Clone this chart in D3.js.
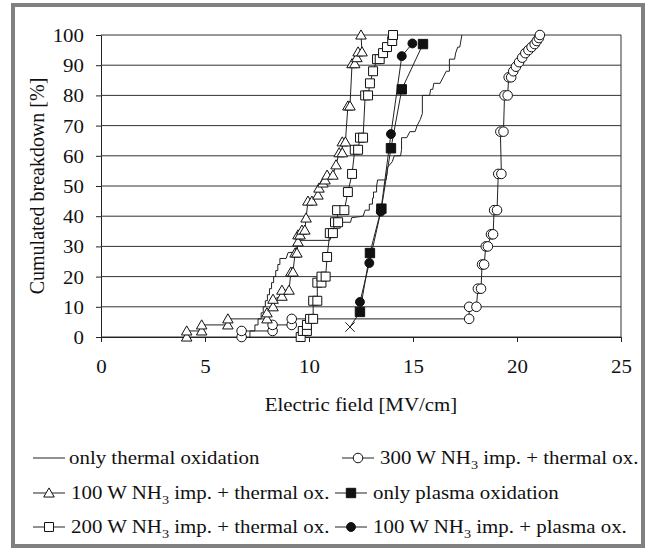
<!DOCTYPE html>
<html>
<head>
<meta charset="utf-8">
<script src="https://cdnjs.cloudflare.com/ajax/libs/d3/7.8.5/d3.min.js"></script>
<style>
  body { margin: 0; background: #fff; }
  svg text { font-family: "Liberation Serif", "Times New Roman", serif; }
</style>
</head>
<body>
<svg id="chart" width="649" height="550"></svg>
<script>
// ---- data ----
const xTicks = [0, 5, 10, 15, 20, 25];
const yTicks = [0, 10, 20, 30, 40, 50, 60, 70, 80, 90, 100];

// only thermal oxidation (plain stepped line)
const thermalOnly = [
  [7.16,0],[7.16,2],[7.4,2],[7.4,4],[7.55,4],[7.55,6],[7.7,6],[7.7,8],[7.8,8],[7.8,10],
  [7.9,10],[7.9,12],[8.0,12],[8.0,14],[8.1,14],[8.1,16],[8.2,16],[8.2,18],[8.3,18],[8.3,20],
  [8.4,20],[8.4,22],[8.5,22],[8.5,24],[8.6,24],[8.6,26],[8.9,26],[9.0,28],[9.3,28],[9.4,30],
  [9.45,32],[11.0,32],[11.1,34],[11.3,34],[11.3,36],[11.5,36],[11.5,38],[12.0,38],[12.05,39.5],
  [12.6,40],[12.7,42],[12.9,42],[12.9,44],[13.05,44],[13.05,46],[13.1,46],[13.1,48],[13.25,48],
  [13.25,50],[13.3,52],[13.7,52],[13.75,54],[13.75,56],[14.0,58],[14.1,60],[14.4,60],[14.45,62],
  [14.45,66],[14.7,66],[14.85,68],[15.1,68],[15.2,70],[15.35,72],[15.45,74],[15.45,80],[15.8,80],
  [15.85,82],[15.95,82],[16.0,84],[16.3,84],[16.45,86],[16.6,88],[16.75,88],[16.75,92],[17.0,92],
  [17.05,94],[17.15,96],[17.25,96],[17.3,98],[17.35,100]
];

// 100 W NH3 imp. + thermal ox. (open triangles)
const nh3w100Thermal = [
  [4.12,0],[4.12,2],[4.84,2],[4.84,4],[6.1,4],[6.1,6],[7.98,6],[7.98,8],[8.27,10],[8.27,12.5],
  [8.7,13.5],[8.7,15.5],[9.04,15.5],[9.13,21.5],[9.23,21.5],[9.33,27.8],[9.42,27.8],[9.47,31.5],
  [9.47,33.8],[9.57,33.8],[9.66,35.4],[9.8,35.4],[9.86,39.4],[9.95,45],[10.14,45],[10.43,47],
  [10.48,49.3],[10.67,51],[10.77,52],[10.87,53.6],[11.15,53.6],[11.3,57],[11.45,61],[11.6,61],
  [11.6,64.6],[11.75,64.6],[11.87,76.5],[11.97,76.5],[12.07,90.5],[12.2,90.5],[12.3,92.5],
  [12.36,94.4],[12.55,94.4],[12.5,100]
];

// 200 W NH3 imp. + thermal ox. (open squares)
const nh3w200Thermal = [
  [9.6,0],[9.7,2],[9.9,2],[9.9,4],[10.05,6],[10.2,6],[10.2,12],[10.4,12],[10.4,18],[10.6,18],
  [10.6,20],[10.8,20],[10.87,26.5],[11.0,34.4],[11.15,34.4],[11.25,38],[11.4,38],[11.35,42],
  [11.7,42],[11.87,48],[12.07,54],[12.2,62],[12.36,62],[12.45,66],[12.6,66],[12.7,80],[12.84,80],
  [12.93,84],[13.08,88],[13.27,92],[13.4,92],[13.56,94],[13.75,96],[14.0,98],[14.04,100]
];

// 300 W NH3 imp. + thermal ox. (open circles)
const nh3w300Thermal = [
  [6.76,0],[6.76,2],[8.25,2],[8.25,4],[9.17,4],[9.17,6],[17.7,6],[17.7,10],[18.05,10],
  [18.12,16],[18.27,16],[18.32,24],[18.42,24],[18.5,30],[18.6,30],[18.75,34],[18.85,34],
  [18.9,42],[19.04,42],[19.1,54],[19.25,54],[19.2,68],[19.35,68],[19.4,80],[19.55,80],
  [19.6,86],[19.72,86],[19.82,88],[19.95,89.5],[20.1,91],[20.25,92.5],[20.4,94],[20.55,95],
  [20.7,96],[20.85,97],[20.95,98],[21.05,99],[21.1,100]
];

// only plasma oxidation (filled squares); first point drawn as a cross
const plasmaCross = [11.97, 3.3];
const plasmaOnly = [
  [12.45,8.3],[12.93,27.8],[13.48,42.5],[13.94,62.5],[14.46,82],[15.48,97]
];

// 100 W NH3 imp. + plasma ox. (filled circles)
const nh3w100Plasma = [
  [12.45,11.6],[12.9,24.5],[13.45,41.5],[13.94,67.2],[14.46,93],[14.97,97.2]
];

// ---- layout ----
const svg = d3.select('#chart');
const plot = { left: 101, right: 621, top: 35, bottom: 337 };
const stretch = 1.1;   // text in the figure is a bit wider than plain Times
const ink = '#111';

svg.append('rect')
  .attr('x', 13).attr('y', 5)
  .attr('width', 630).attr('height', 541)
  .attr('fill', 'none')
  .attr('stroke', '#808080')
  .attr('stroke-width', 4);

const x = d3.scaleLinear().domain([0, 25]).range([plot.left, plot.right]);
const y = d3.scaleLinear().domain([0, 100]).range([plot.bottom, plot.top]);

// y axis
const yAxisG = svg.append('g')
  .attr('transform', `translate(${plot.left},0)`)
  .call(d3.axisLeft(y).tickValues(yTicks).tickSize(5))
  .attr('font-family', null);
yAxisG.select('.domain').attr('stroke', '#222');
yAxisG.selectAll('.tick line').attr('stroke', '#222');
yAxisG.selectAll('.tick text')
  .attr('x', 0).attr('dy', '0.34em')
  .attr('transform', `translate(-17,0) scale(${stretch},1)`)
  .attr('font-size', 19)
  .attr('fill', ink);

// gridlines
svg.append('g').selectAll('line.grid')
  .data(yTicks)
  .join('line')
  .attr('class', 'grid')
  .attr('x1', plot.left).attr('x2', plot.right)
  .attr('y1', d => y(d)).attr('y2', d => y(d))
  .attr('stroke', '#333')
  .attr('stroke-width', 1);

svg.append('line')
  .attr('x1', plot.right).attr('x2', plot.right)
  .attr('y1', plot.top).attr('y2', plot.bottom)
  .attr('stroke', '#333');

// x axis
const xAxisG = svg.append('g')
  .attr('transform', `translate(0,${plot.bottom})`)
  .call(d3.axisBottom(x).tickValues(xTicks).tickSize(5))
  .attr('font-family', null);
xAxisG.select('.domain').attr('stroke', '#222');
xAxisG.selectAll('.tick line').attr('stroke', '#222');
xAxisG.selectAll('.tick text')
  .attr('y', 0).attr('dy', 0)
  .attr('transform', `translate(0,36) scale(${stretch},1)`)
  .attr('font-size', 19)
  .attr('fill', ink);

svg.append('text')
  .attr('transform', `translate(${(plot.left + plot.right) / 2},411) scale(${stretch},1)`)
  .attr('text-anchor', 'middle')
  .attr('font-size', 19)
  .attr('fill', ink)
  .text('Electric field [MV/cm]');

svg.append('text')
  .attr('transform', `translate(44,${(plot.top + plot.bottom) / 2}) rotate(-90)`)
  .attr('text-anchor', 'middle')
  .attr('font-size', 20)
  .attr('fill', ink)
  .text('Cumulated breakdown [%]');

// ---- series ----
const line = d3.line().x(d => x(d[0])).y(d => y(d[1]));

const marks = {
  triangle: d3.symbol().type(d3.symbolTriangle).size(48),
  square: d3.symbol().type(d3.symbolSquare).size(80),
  circle: d3.symbol().type(d3.symbolCircle).size(72),
  fsquare: d3.symbol().type(d3.symbolSquare).size(88),
  fcircle: d3.symbol().type(d3.symbolCircle).size(62),
  cross: d3.symbol().type(d3.symbolX).size(60)
};

const series = [
  { data: thermalOnly, mark: null },
  { data: nh3w300Thermal, mark: 'circle', fill: '#fff' },
  { data: nh3w200Thermal, mark: 'square', fill: '#fff' },
  { data: nh3w100Thermal, mark: 'triangle', fill: '#fff' },
  { data: [plasmaCross].concat(plasmaOnly), mark: 'fsquare', fill: ink, skipFirst: true },
  { data: nh3w100Plasma, mark: 'fcircle', fill: ink }
];

series.forEach(s => {
  svg.append('path')
    .datum(s.data)
    .attr('fill', 'none')
    .attr('stroke', '#222')
    .attr('stroke-width', 1)
    .attr('d', line);
});

series.forEach(s => {
  if (!s.mark) return;
  const pts = s.skipFirst ? s.data.slice(1) : s.data;
  svg.append('g').selectAll('path')
    .data(pts)
    .join('path')
    .attr('transform', d => `translate(${x(d[0])},${y(d[1]) + (s.mark === 'triangle' ? 1 : 0)})`)
    .attr('d', marks[s.mark]())
    .attr('fill', s.fill)
    .attr('stroke', ink)
    .attr('stroke-width', 1);
});

svg.append('path')
  .attr('transform', `translate(${x(plasmaCross[0])},${y(plasmaCross[1])})`)
  .attr('d', marks.cross())
  .attr('fill', 'none')
  .attr('stroke', '#222')
  .attr('stroke-width', 1);

// ---- legend ----
const rowY = [458, 493, 527];
const legendItems = [
  { pos: [33, rowY[0]], mark: null, lead: 'only thermal oxidation' },
  { pos: [342, rowY[0]], mark: 'circle', fill: '#fff', lead: '300 W NH', sub: '3', tail: ' imp. + thermal ox.' },
  { pos: [33, rowY[1]], mark: 'triangle', fill: '#fff', lead: '100 W NH', sub: '3', tail: ' imp. + thermal ox.' },
  { pos: [335, rowY[1]], mark: 'fsquare', fill: ink, lead: 'only plasma oxidation' },
  { pos: [33, rowY[2]], mark: 'square', fill: '#fff', lead: '200 W NH', sub: '3', tail: ' imp. + thermal ox.' },
  { pos: [335, rowY[2]], mark: 'fcircle', fill: ink, lead: '100 W NH', sub: '3', tail: ' imp. + plasma ox.' }
];

legendItems.forEach(it => {
  const g = svg.append('g').attr('transform', `translate(${it.pos[0]},${it.pos[1]})`);
  g.append('line')
    .attr('x1', 0).attr('x2', 32)
    .attr('y1', 0).attr('y2', 0)
    .attr('stroke', '#222');
  if (it.mark) {
    g.append('path')
      .attr('transform', `translate(16,${it.mark === 'triangle' ? 1 : 0})`)
      .attr('d', marks[it.mark]())
      .attr('fill', it.fill)
      .attr('stroke', ink);
  }
  const t = g.append('text')
    .attr('transform', `translate(${it.mark ? 38 : 36},6) scale(${stretch},1)`)
    .attr('font-size', 19)
    .attr('fill', ink);
  t.append('tspan').text(it.lead);
  if (it.sub) {
    t.append('tspan').attr('dy', 5).attr('font-size', 13).text(it.sub);
    t.append('tspan').attr('dy', -5).text(it.tail);
  }
});
</script>
</body>
</html>
